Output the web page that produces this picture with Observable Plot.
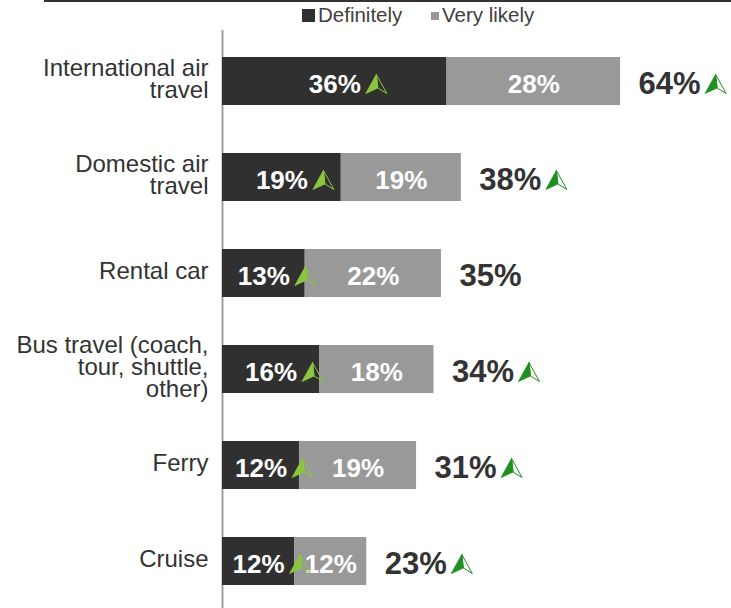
<!DOCTYPE html>
<html>
<head>
<meta charset="utf-8">
<script src="https://cdn.jsdelivr.net/npm/d3@7"></script>
<script src="https://cdn.jsdelivr.net/npm/@observablehq/plot@0.6"></script>
<style>
  body { margin: 0; background: #fff; }
  #wrap { position: relative; width: 731px; height: 608px; font-family: "Liberation Sans", Arial, sans-serif; }
  #wrap > svg { position: absolute; left: 0; top: 0; }
</style>
</head>
<body>
<div id="wrap"></div>
<script>
const categories = ["International air\ntravel", "Domestic air\ntravel", "Rental car", "Bus travel (coach,\ntour, shuttle,\nother)", "Ferry", "Cruise"];
const definitely = [36.1, 19.1, 13.3, 15.6, 12.4, 11.6];
const veryLikely = [27.9, 19.3, 21.9, 18.4, 18.8, 11.6];
const definitelyUp = [true, true, true, true, true, true];
const totalUp = [true, true, false, true, true, true];
const seriesNames = ["Definitely", "Very likely"];
const seriesColors = ["#303030", "#999999"];

const fmt = v => Math.round(v) + "%";
const long = categories.flatMap((c, i) => [
  {cat: c, series: seriesNames[0], value: definitely[i]},
  {cat: c, series: seriesNames[1], value: veryLikely[i]}
]);
const rows = categories.map((c, i) => ({
  cat: c, def: definitely[i], vl: veryLikely[i], total: definitely[i] + veryLikely[i],
  defUp: definitelyUp[i], totUp: totalUp[i]
}));

const arrowLeft = {draw(ctx) { ctx.moveTo(0, -9.5); ctx.lineTo(-10.5, 9.5); ctx.lineTo(1.5, 4); ctx.closePath(); }};
const arrowRight = {draw(ctx) { ctx.moveTo(0, -9.5); ctx.lineTo(1.5, 4); ctx.lineTo(10.5, 9.5); ctx.closePath(); }};
const lightGreen = "#8cc63f", darkGreen = "#1f8f1f";

function arrows(data, xf, dx, color) {
  return [
    Plot.dot(data, {y: "cat", x: xf, dx, dy: 2.5, symbol: arrowLeft, fill: color, stroke: color, strokeWidth: 0.8}),
    Plot.dot(data, {y: "cat", x: xf, dx, dy: 2.5, symbol: arrowRight, fill: "none", stroke: color, strokeWidth: 1})
  ];
}

const chart = Plot.plot({
  width: 731,
  height: 608,
  marginLeft: 222,
  marginRight: 11.4,
  marginTop: 30,
  marginBottom: 0,
  style: {fontFamily: '"Liberation Sans", Arial, sans-serif', background: "transparent"},
  x: {domain: [0, 80], axis: null},
  y: {domain: categories, paddingInner: 0.5, paddingOuter: 0.24, align: 0.53, axis: null},
  color: {domain: seriesNames, range: seriesColors},
  marks: [
    Plot.ruleX([0], {stroke: "#a0a0a0", strokeWidth: 2}),
    Plot.barX(long, {y: "cat", x: "value", fill: "series"}),
    Plot.axisY({tickSize: 0, tickPadding: 14, fontSize: 24, lineHeight: 0.91, dy: -1.5, fill: "#333", label: null}),
    Plot.text(rows, {y: "cat", x: d => d.def / 2, text: d => fmt(d.def), fill: "white", fontSize: 26, fontWeight: "bold", dy: 3}),
    Plot.text(rows, {y: "cat", x: d => d.def + d.vl / 2, text: d => fmt(d.vl), fill: "white", fontSize: 26, fontWeight: "bold", dy: 3}),
    Plot.text(rows, {y: "cat", x: "total", text: d => fmt(d.total), textAnchor: "start", dx: 18, fill: "#333", fontSize: 31, fontWeight: "bold", dy: 3}),
    ...arrows(rows.filter(d => d.defUp), d => d.def / 2, 41.5, lightGreen),
    ...arrows(rows.filter(d => d.totUp), "total", 95, darkGreen)
  ]
});

const wrap = document.getElementById("wrap");
wrap.appendChild(chart);

// legend + top rule
const ns = "http://www.w3.org/2000/svg";
const leg = document.createElementNS(ns, "svg");
leg.setAttribute("width", 731);
leg.setAttribute("height", 30);
leg.innerHTML = `
  <rect x="44" y="0" width="687" height="2" fill="#333"></rect>
  <rect x="302" y="9" width="13" height="13" fill="${seriesColors[0]}"></rect>
  <text x="318" y="22" font-size="20.5" fill="#404040" font-family="Liberation Sans, Arial, sans-serif">${seriesNames[0]}</text>
  <rect x="431" y="12" width="8" height="8" fill="${seriesColors[1]}"></rect>
  <text x="442" y="22" font-size="20.5" fill="#404040" font-family="Liberation Sans, Arial, sans-serif">${seriesNames[1]}</text>
`;
wrap.appendChild(leg);
</script>
</body>
</html>
